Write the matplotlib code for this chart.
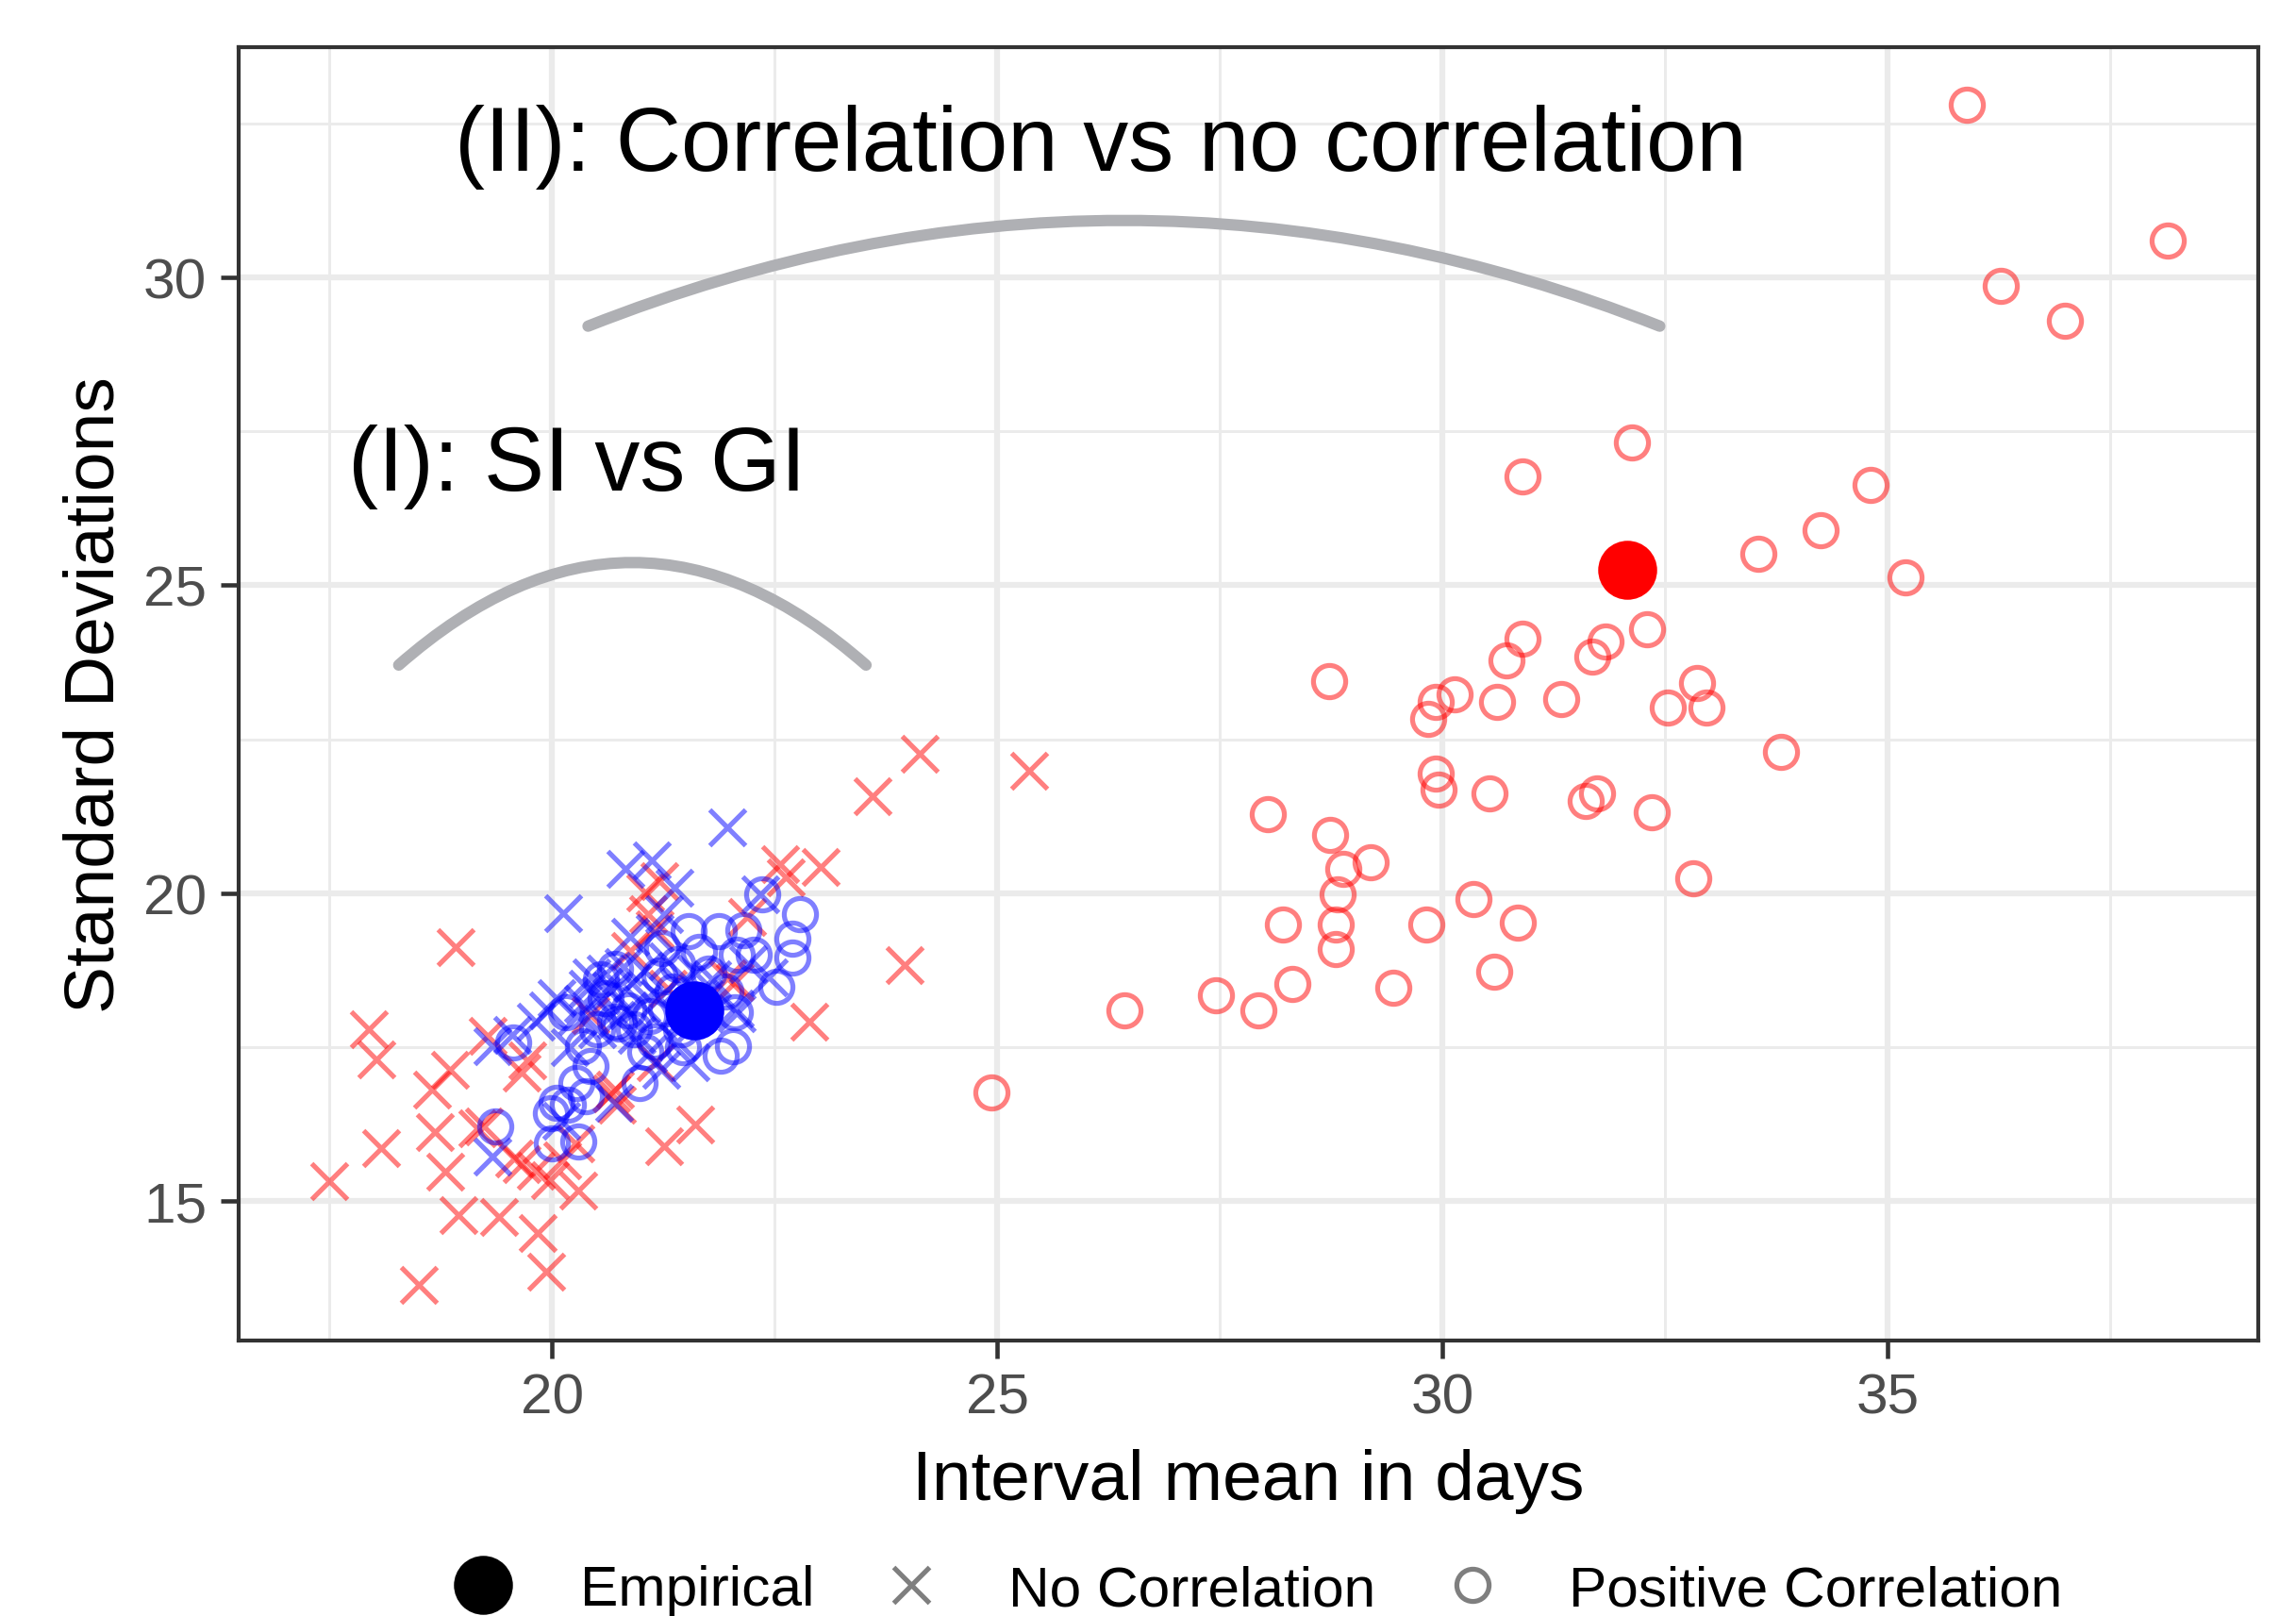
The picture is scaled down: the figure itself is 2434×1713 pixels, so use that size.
import matplotlib
matplotlib.use("Agg")
import matplotlib.pyplot as plt
from matplotlib.lines import Line2D
from matplotlib.patches import FancyArrowPatch

plt.rcParams['font.family'] = ['Liberation Sans', 'DejaVu Sans']

# Positive correlation, red (open circles)
red_pos_mean = [35.89, 38.14, 36.27, 36.99, 32.12, 30.90, 34.80, 33.54, 34.24, 35.20,
                30.90, 31.83, 32.29, 30.72, 31.68, 28.72, 32.86, 30.13, 29.92, 29.84,
                30.61, 31.33, 32.53, 32.96, 33.80, 29.92, 29.95, 30.53, 31.61, 31.73,
                32.35, 28.04, 28.73, 28.88, 29.19, 28.82, 32.81, 28.21, 28.80, 29.82,
                30.35, 30.84, 28.80, 30.58, 28.31, 29.44, 26.43, 27.45, 27.93, 24.93]
red_pos_sd = [32.80, 30.59, 29.86, 29.29, 27.32, 26.77, 26.63, 25.51, 25.89, 25.13,
              24.13, 24.09, 24.28, 23.78, 23.85, 23.44, 23.42, 23.23, 23.11, 22.83,
              23.11, 23.16, 23.02, 23.02, 22.30, 21.95, 21.69, 21.62, 21.50, 21.62,
              21.31, 21.28, 20.95, 20.40, 20.50, 19.98, 20.24, 19.50, 19.50, 19.50,
              19.90, 19.52, 19.10, 18.72, 18.53, 18.46, 18.10, 18.34, 18.10, 16.77]

# No correlation, red (crosses)
red_none_mean = [17.50, 17.94, 18.03, 18.08, 18.50, 18.65, 18.68, 18.85, 18.92, 18.80,
                 18.95, 19.16, 19.27, 19.40, 19.57, 19.66, 19.72, 19.82, 19.84, 19.93,
                 19.97, 20.11, 20.29, 20.26, 20.66, 20.73, 20.71, 21.16, 21.26, 21.61,
                 21.20, 21.08, 21.04, 20.87, 21.15, 21.97, 22.05, 22.19, 22.56, 22.62,
                 23.01, 22.89, 23.60, 24.13, 23.96, 25.36, 19.23, 20.43, 21.30, 19.66]
red_none_sd = [15.33, 17.80, 17.31, 15.86, 13.64, 16.81, 16.13, 17.14, 19.12, 15.48,
               14.78, 16.18, 17.69, 14.75, 15.70, 15.61, 17.29, 15.50, 14.49, 13.86,
               15.34, 15.67, 15.17, 15.94, 16.75, 16.57, 16.81, 17.25, 15.89, 16.24,
               20.20, 19.66, 20.02, 19.07, 19.41, 18.62, 18.56, 19.62, 20.48, 20.26,
               20.42, 17.92, 21.57, 22.26, 18.84, 21.99, 16.21, 18.02, 18.45, 17.09]

# No correlation, blue (crosses)
blue_none_mean = [19.33, 19.33, 19.55, 19.82, 19.95, 20.05, 20.12, 20.20, 20.28, 20.35,
                  20.40, 20.44, 20.50, 20.55, 20.60, 20.66, 20.70, 20.72, 20.80, 20.82,
                  20.85, 20.87, 20.90, 20.95, 21.00, 21.03, 21.08, 21.12, 21.15, 21.20,
                  21.22, 21.26, 21.30, 21.37, 21.40, 21.45, 21.50, 21.55, 21.62, 21.70,
                  21.80, 21.97, 22.05, 22.07, 22.20, 22.34, 22.43, 20.10]
blue_none_sd = [15.72, 17.52, 17.70, 17.91, 18.10, 18.30, 19.68, 17.50, 18.00, 18.20,
                18.45, 18.63, 17.80, 18.35, 18.70, 18.42, 16.60, 17.95, 18.80, 20.40,
                18.10, 19.30, 18.55, 17.70, 18.20, 18.75, 17.40, 20.53, 19.35, 18.30,
                17.14, 19.66, 18.90, 20.09, 17.60, 18.50, 18.00, 17.25, 18.70, 18.30,
                18.60, 21.07, 18.13, 18.06, 18.85, 19.99, 18.63, 16.30]

# Positive correlation, blue (open circles)
blue_pos_mean = [19.36, 19.56, 19.98, 20.00, 20.18, 20.29, 20.27, 20.15, 20.35, 20.43,
                 20.38, 20.50, 20.60, 20.71, 20.71, 20.75, 20.85, 20.92, 20.98, 21.04,
                 21.10, 21.20, 21.24, 21.28, 21.35, 21.45, 21.47, 21.53, 21.60, 21.65,
                 21.75, 21.87, 21.89, 21.95, 22.03, 22.05, 22.07, 22.15, 22.26, 22.36,
                 22.52, 22.70, 22.70, 22.78, 20.55, 21.15, 21.40, 20.05]
blue_pos_sd = [16.21, 17.58, 16.43, 15.94, 16.57, 15.97, 16.92, 18.07, 17.52, 17.20,
               16.70, 17.80, 18.30, 18.78, 17.91, 17.88, 18.10, 17.80, 16.92, 17.42,
               18.00, 18.67, 19.11, 18.13, 18.40, 17.80, 17.50, 19.38, 18.20, 19.05,
               18.70, 19.38, 17.36, 18.40, 17.52, 18.07, 19.00, 19.40, 19.00, 19.98,
               18.48, 19.26, 18.95, 19.66, 18.60, 17.60, 18.85, 16.60]

# Empirical estimates
emp_mean = [32.07, 21.60]
emp_sd = [25.25, 18.10]
emp_colors = ["#FF0000", "#0000FF"]

# Annotations: label text, label position, curve start/end
labels = ["(I): SI vs GI", "(II): Correlation vs no correlation"]
label_x = [20.28, 26.16]
label_y = [26.55, 31.74]
curve_start = [(18.21, 23.62), (20.32, 29.16)]
curve_end = [(23.59, 23.62), (32.52, 29.16)]
curve_rad = [-0.45, -0.2]

fig = plt.figure(figsize=(2434 / 300, 1714 / 300), dpi=300)
ax = fig.add_axes([0.104, 0.1704, 0.8796, 0.7996])

cross_kw = dict(ls="none", marker="x", ms=9.0, mew=1.25, alpha=0.5)
circ_kw = dict(ls="none", marker="o", ms=8.2, mew=1.25, mfc="none", alpha=0.5)
ax.plot(red_none_mean, red_none_sd, color="#FF0000", **cross_kw)
ax.plot(red_pos_mean, red_pos_sd, mec="#FF0000", **circ_kw)
ax.plot(blue_none_mean, blue_none_sd, color="#0000FF", **cross_kw)
ax.plot(blue_pos_mean, blue_pos_sd, mec="#0000FF", **circ_kw)
for mx, my, c in zip(emp_mean, emp_sd, emp_colors):
    ax.plot(mx, my, ls="none", marker="o", ms=15, color=c, mew=0)

for (x0, y0), (x1, y1), r in zip(curve_start, curve_end, curve_rad):
    ax.add_patch(FancyArrowPatch((x0, y0), (x1, y1), arrowstyle="-",
                                 connectionstyle=f"arc3,rad={r}",
                                 color="#afb0b4", lw=2.9, zorder=3))
for t, tx, ty in zip(labels, label_x, label_y):
    ax.text(tx, ty, t, fontsize=23, ha="center", va="baseline", color="black")

ax.set_xlim(16.48, 39.16)
ax.set_ylim(12.74, 33.73)
ax.set_xticks([20, 25, 30, 35])
ax.set_yticks([15, 20, 25, 30])
ax.set_xticks([17.5, 22.5, 27.5, 32.5, 37.5], minor=True)
ax.set_yticks([17.5, 22.5, 27.5, 32.5], minor=True)
ax.grid(which="major", color="#ebebeb", lw=1.5)
ax.grid(which="minor", color="#ebebeb", lw=0.7)
ax.set_axisbelow(True)
ax.tick_params(which="major", length=4.6, width=1.1, color="#333333",
               labelsize=14.5, labelcolor="#4d4d4d", pad=3.5)
ax.tick_params(which="minor", length=0)
for s in ax.spines.values():
    s.set_color("#333333")
    s.set_linewidth(1.0)

ax.set_xlabel("Interval mean in days", fontsize=18, labelpad=6)
ax.set_ylabel("Standard Deviations", fontsize=18, labelpad=4)

handles = [
    Line2D([], [], ls="none", marker="o", ms=15, color="black", mew=0),
    Line2D([], [], ls="none", marker="x", ms=9.0, mew=1.25, color="black", alpha=0.5),
    Line2D([], [], ls="none", marker="o", ms=8.2, mew=1.25, mfc="none", mec="black", alpha=0.5),
]
fig.legend(handles, ["Empirical", "No Correlation", "Positive Correlation"],
           loc="center", bbox_to_anchor=(0.542, 0.016), ncol=3, frameon=False,
           fontsize=14.5, handlelength=2.0, handletextpad=0.7, columnspacing=0.7)

fig.savefig("out.png", dpi=300)
